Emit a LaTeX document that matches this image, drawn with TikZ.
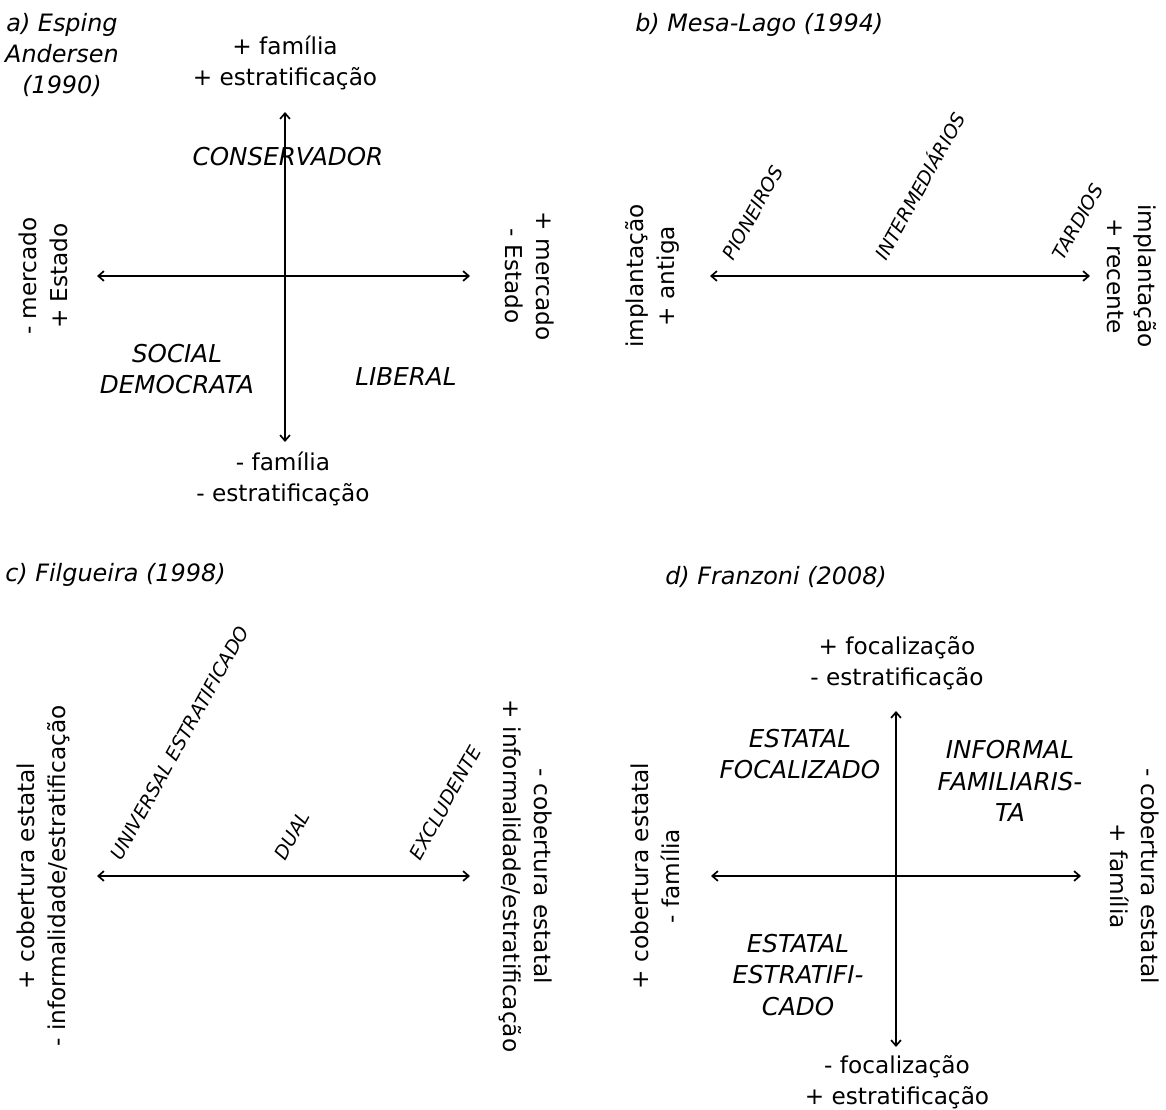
\documentclass[tikz,border=0pt]{standalone}
\usepackage{fontspec}
\setmainfont{DejaVu Sans}
\usetikzlibrary{arrows.meta}
\usetikzlibrary{positioning}

\tikzset{
  eixo/.style={line width=1.2pt, {Straight Barb[length=4pt,width=7pt]}-{Straight Barb[length=4pt,width=7pt]}},
  rotulo/.style={font=\fontsize{16.5}{22}\selectfont, align=center, inner sep=0pt},
  regime/.style={font=\fontsize{17.5}{22.5}\selectfont\itshape, align=center, inner sep=0pt},
  titulo/.style={font=\fontsize{17}{22}\selectfont\itshape, align=center, inner sep=0pt},
  inclinado/.style={font=\fontsize{13.5}{15}\selectfont\itshape, rotate=61, anchor=south west, inner sep=0pt},
}

\begin{document}
\begin{tikzpicture}[x=0.025cm, y=-0.025cm]
  \useasboundingbox (0,0) rectangle (1166,1110);

  % a) Esping Andersen (1990)
  \node[titulo] (titA) at (62,55) {a) Esping\\Andersen\\(1990)};
  \coordinate (aN) at (285,112);
  \coordinate (aS) at (285,442);
  \coordinate (aW) at (97,276);
  \coordinate (aE) at (470,276);
  \draw[eixo] (aW) -- (aE);
  \draw[eixo] (aN) -- (aS);
  \node[rotulo] (aTopo) at (285,63) {+ família\\+ estratificação};
  \node[rotulo] (aBase) at (283,479) {- família\\- estratificação};
  \node[rotulo, rotate=90] (aEsq) at (43,276) {- mercado\\+ Estado};
  \node[rotulo, rotate=-90] (aDir) at (530,276) {+ mercado\\- Estado};
  \node[regime] (cons) at (288,157) {CONSERVADOR};
  \node[regime] (socdem) at (177,369) {SOCIAL\\DEMOCRATA};
  \node[regime] (lib) at (406,377) {LIBERAL};

  % b) Mesa-Lago (1994)
  \node[titulo, anchor=west] (titB) at (635,25) {b) Mesa-Lago (1994)};
  \coordinate (bW) at (710,276);
  \coordinate (bE) at (1090,276);
  \draw[eixo] (bW) -- (bE);
  \node[rotulo, rotate=90] (bEsq) at (652,276) {implantação\\+ antiga};
  \node[rotulo, rotate=-90] (bDir) at (1132,276) {implantação\\+ recente};
  \node[inclinado] (pion) at (734,262) {PIONEIROS};
  \node[inclinado] (inter) at (887,262) {INTERMEDIÁRIOS};
  \node[inclinado] (tard) at (1064,262) {TARDIOS};

  % c) Filgueira (1998)
  \node[titulo, anchor=west] (titC) at (5,575) {c) Filgueira (1998)};
  \coordinate (cW) at (97,876);
  \coordinate (cE) at (470,876);
  \draw[eixo] (cW) -- (cE);
  \node[rotulo, rotate=90] (cEsq) at (43,876) {+ cobertura estatal\\- informalidade/estratificação};
  \node[rotulo, rotate=-90] (cDir) at (526,876) {- cobertura estatal\\+ informalidade/estratificação};
  \node[inclinado] (univ) at (122,862) {UNIVERSAL ESTRATIFICADO};
  \node[inclinado] (dual) at (286,862) {DUAL};
  \node[inclinado] (excl) at (421,862) {EXCLUDENTE};

  % d) Franzoni (2008)
  \node[titulo, anchor=west] (titD) at (665,577) {d) Franzoni (2008)};
  \coordinate (dN) at (896,711);
  \coordinate (dS) at (896,1047);
  \coordinate (dW) at (711,876);
  \coordinate (dE) at (1081,876);
  \draw[eixo] (dW) -- (dE);
  \draw[eixo] (dN) -- (dS);
  \node[rotulo] (dTopo) at (897,663) {+ focalização\\- estratificação};
  \node[rotulo] (dBase) at (897,1082) {- focalização\\+ estratificação};
  \node[rotulo, rotate=90] (dEsq) at (655,876) {+ cobertura estatal\\- família};
  \node[rotulo, rotate=-90] (dDir) at (1135,876) {- cobertura estatal\\+ família};
  \node[regime] (estfoc) at (800,754) {ESTATAL\\FOCALIZADO};
  \node[regime] (inffam) at (1010,781) {INFORMAL\\FAMILIARIS-\\TA};
  \node[regime] (estest) at (798,975) {ESTATAL\\ESTRATIFI-\\CADO};
\end{tikzpicture}
\end{document}
